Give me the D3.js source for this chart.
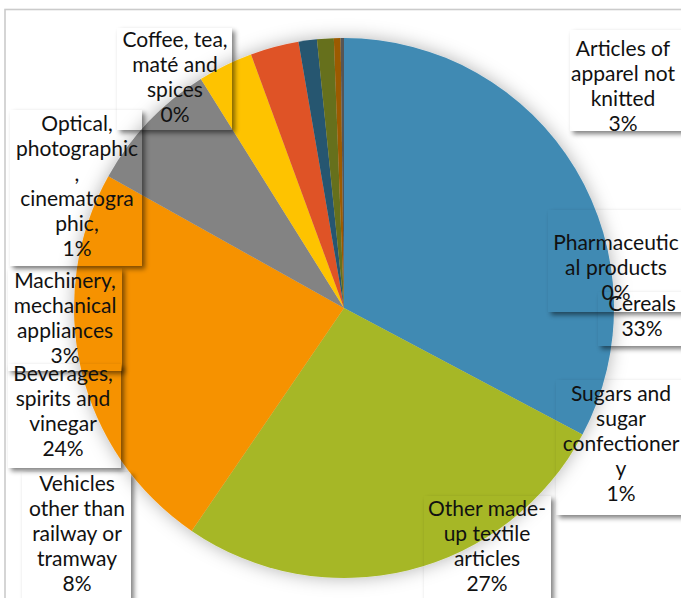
<!DOCTYPE html>
<html>
<head>
<meta charset="utf-8">
<script src="https://cdn.jsdelivr.net/npm/d3@7"></script>
<style>
  body { margin: 0; background: #fff; }
  svg { display: block; }
  text { font-family: Lato, "Open Sans", sans-serif; font-size: 21px; fill: #111; }
</style>
</head>
<body>
<svg id="chart" width="681" height="598"></svg>
<script>
// slice order is clockwise from 12 o'clock
const categories = [
  'Cereals',
  'Other made-\nup textile\narticles',
  'Beverages,\nspirits and\nvinegar',
  'Vehicles\nother than\nrailway or\ntramway',
  'Machinery,\nmechanical\nappliances',
  'Articles of\napparel not\nknitted',
  'Optical,\nphotographic\n,\ncinematogra\nphic,',
  'Sugars and\nsugar\nconfectioner\ny',
  'Coffee, tea,\nmaté and\nspices',
  'Pharmaceutic\nal products'
];
const shares = [32.8, 26.8, 23.6, 8.0, 3.3, 2.9, 1.1, 1.0, 0.4, 0.2];
const colors = ['#418AB3', '#A6B727', '#F69200', '#838383', '#FEC306',
                '#DF5327', '#28566F', '#66701D', '#9C5A00', '#565656'];

// label boxes were dragged around by hand in the original: [x1, y1, x2, y2, textX, firstBaseline]
const labelBoxes = [
  [598, 292, 700, 346, 642, 311],
  [424, 496, 551, 620, 487, 516],
  [8, 364, 121, 468, 63, 381],
  [22, 472, 131, 620, 77, 491],
  [8, 268, 122, 371, 65, 288],
  [570, 30, 700, 131, 623, 56],
  [10, 110, 142, 266, 77, 131],
  [556, 380, 700, 515, 621, 401],
  [117, 28, 232, 130, 175, 47],
  [548, 210, 700, 312, 616, 250]
];

const svg = d3.select('#chart');
const cx = 344, cy = 308, r = 270;
const lineH = 25;

const defs = svg.append('defs');
const glow = defs.append('filter').attr('id', 'glow')
  .attr('x', '-20%').attr('y', '-20%').attr('width', '140%').attr('height', '140%');
glow.append('feDropShadow')
  .attr('dx', 0).attr('dy', 0).attr('stdDeviation', 9)
  .attr('flood-color', '#000').attr('flood-opacity', 0.3);

const blur = defs.append('filter').attr('id', 'blur')
  .attr('x', '-30%').attr('y', '-30%').attr('width', '160%').attr('height', '160%');
blur.append('feGaussianBlur').attr('stdDeviation', 2.5);

// chart area border (runs off the right / bottom of the picture)
svg.append('rect')
  .attr('x', 5).attr('y', 9.5).attr('width', 720).attr('height', 640)
  .attr('fill', 'none').attr('stroke', '#CBCBCB').attr('stroke-width', 1.6);

const total = d3.sum(shares);
const pie = d3.pie().sort(null).value(d => d);
const arc = d3.arc().innerRadius(0).outerRadius(r);

svg.append('g')
  .attr('transform', `translate(${cx},${cy})`)
  .attr('filter', 'url(#glow)')
  .selectAll('path')
  .data(pie(shares))
  .join('path')
  .attr('d', arc)
  .attr('fill', (_, i) => colors[i]);

// label shadows, knocked out under each (transparent) box
labelBoxes.forEach((b, i) => {
  const m = defs.append('mask').attr('id', 'm' + i).attr('maskUnits', 'userSpaceOnUse')
    .attr('x', 0).attr('y', 0).attr('width', 681).attr('height', 598);
  m.append('rect').attr('width', 681).attr('height', 598).attr('fill', '#fff');
  m.append('rect').attr('x', b[0]).attr('y', b[1])
    .attr('width', b[2] - b[0]).attr('height', b[3] - b[1]).attr('fill', '#000');
  svg.append('g').attr('mask', `url(#m${i})`)
    .append('rect')
    .attr('x', b[0] + 3).attr('y', b[1] + 3)
    .attr('width', b[2] - b[0]).attr('height', b[3] - b[1])
    .attr('fill', '#000').attr('opacity', 0.5)
    .attr('filter', 'url(#blur)');
});

const labels = svg.append('g')
  .selectAll('text')
  .data(categories)
  .join('text')
  .attr('text-anchor', 'middle')
  .attr('x', (_, i) => labelBoxes[i][4])
  .attr('y', (_, i) => labelBoxes[i][5]);

labels.selectAll('tspan')
  .data((d, i) => d.split('\n').concat(Math.round(shares[i] / total * 100) + '%')
    .map(t => ({ t, x: labelBoxes[i][4] })))
  .join('tspan')
  .attr('x', d => d.x)
  .attr('dy', (_, j) => j ? lineH : 0)
  .text(d => d.t);
</script>
</body>
</html>
